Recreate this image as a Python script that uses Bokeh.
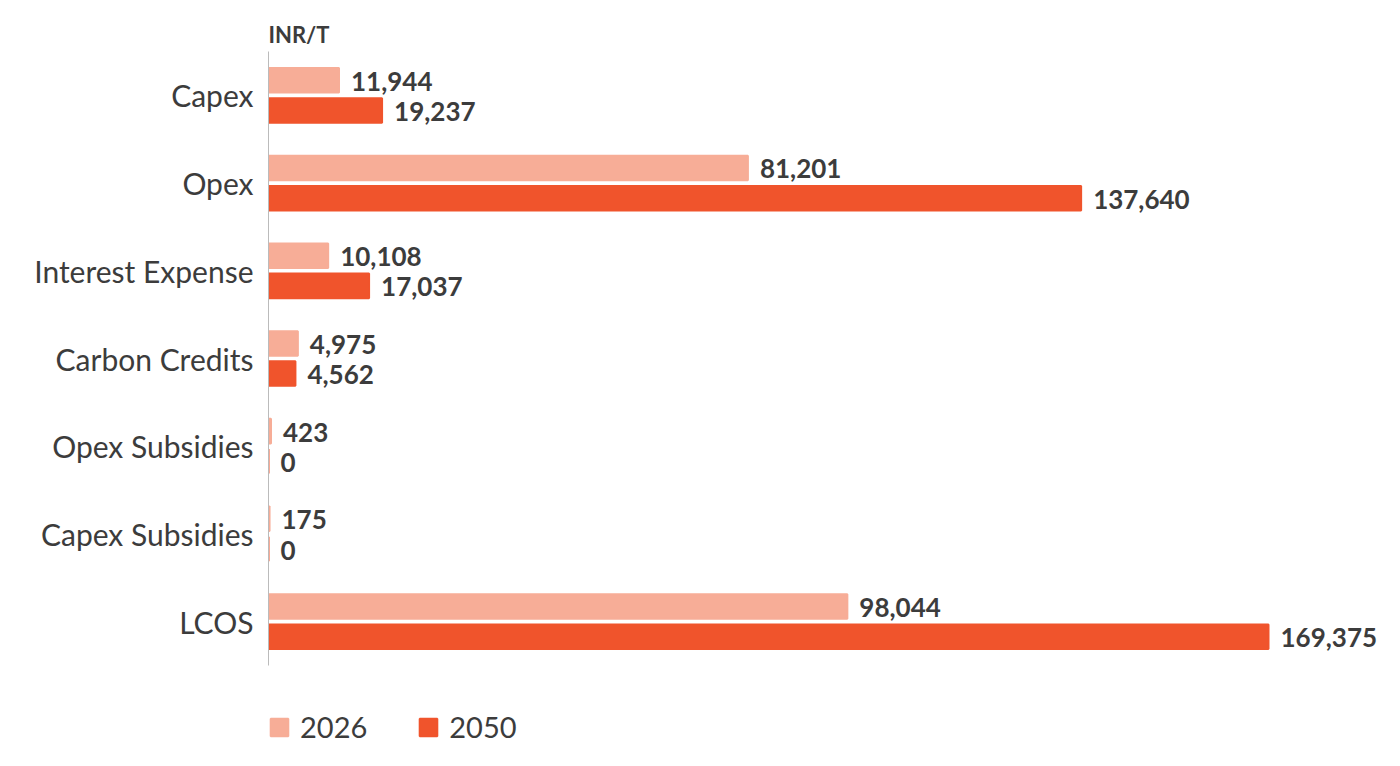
from bokeh.plotting import figure
from bokeh.models import (ColumnDataSource, Range1d, Legend, LegendItem, LabelSet,
                          FixedTicker)
from bokeh.core.properties import value
from bokeh.transform import dodge
from bokeh.embed import file_html
from bokeh.resources import INLINE

categories = ["Capex", "Opex", "Interest Expense", "Carbon Credits",
              "Opex Subsidies", "Capex Subsidies", "LCOS"]
values_2026 = [11944, 81201, 10108, 4975, 423, 175, 98044]
values_2050 = [19237, 137640, 17037, 4562, 0, 0, 169375]
series_names = ["2026", "2050"]
unit_label = "INR/T"

C26 = "#F7AD97"
C50 = "#F0542C"
TXT = "#3c3c3c"
FONT = "Lato"

n = len(categories)
pos = [n - 1 - i for i in range(n)]  # first category at top

src = ColumnDataSource(dict(
    cat=categories,
    pos=pos,
    v26=values_2026,
    v50=values_2050,
    l26=[f"{v:,}" for v in values_2026],
    l50=[f"{v:,}" for v in values_2050],
))

p = figure(frame_width=1114, frame_height=694, output_backend="svg", toolbar_location=None,
           y_range=Range1d(-1.412, n - 0.5),
           x_range=Range1d(0, 188685),
           x_axis_location=None,
           min_border_left=268, min_border_right=2, min_border_top=51, min_border_bottom=0,
           title=unit_label)
p.outline_line_color = None
p.grid.grid_line_color = None
p.background_fill_color = None
p.border_fill_color = "white"

p.title.text_font = FONT
p.title.text_font_size = "22px"
p.title.text_font_style = "bold"
p.title.text_color = TXT
p.title.offset = 0
p.title.standoff = 8

off = 0.172
h = 0.28
r26 = p.hbar(y=dodge("pos", off), right="v26", left=0, height=h,
             source=src, fill_color=C26, line_color=C26, line_width=2)
r50 = p.hbar(y=dodge("pos", -off), right="v50", left=0, height=h,
             source=src, fill_color=C50, line_color=C50, line_width=2)

for col, x, o in (("l26", "v26", off), ("l50", "v50", -off)):
    ls = LabelSet(x=x, y=dodge("pos", o), text=col, source=src,
                  x_offset=12, y_offset=-1, text_baseline="middle", text_align="left",
                  text_font=value(FONT), text_font_size=value("26px"),
                  text_font_style="bold", text_color=TXT)
    p.add_layout(ls)

ya = p.yaxis[0]
ya.ticker = FixedTicker(ticks=pos)
ya.major_label_overrides = {pv: c for pv, c in zip(pos, categories)}
ya.bounds = (-0.5, n - 0.5)
ya.axis_line_color = "#bbbbbb"
ya.axis_line_width = 1
ya.major_tick_line_color = None
ya.minor_tick_line_color = None
ya.major_label_text_font = FONT
ya.major_label_text_font_size = "30px"
ya.major_label_text_color = TXT
ya.major_label_standoff = 9

legend = Legend(items=[LegendItem(label=series_names[0], renderers=[r26]),
                       LegendItem(label=series_names[1], renderers=[r50])],
                orientation="horizontal", location=(0, 1),
                label_text_font=FONT, label_text_font_size="29px", label_text_color=TXT,
                glyph_width=22, glyph_height=22, spacing=50, padding=0, margin=0,
                label_standoff=10, border_line_color=None, background_fill_alpha=0)
p.add_layout(legend, "center")

open("out.html", "w").write(file_html(p, INLINE))
